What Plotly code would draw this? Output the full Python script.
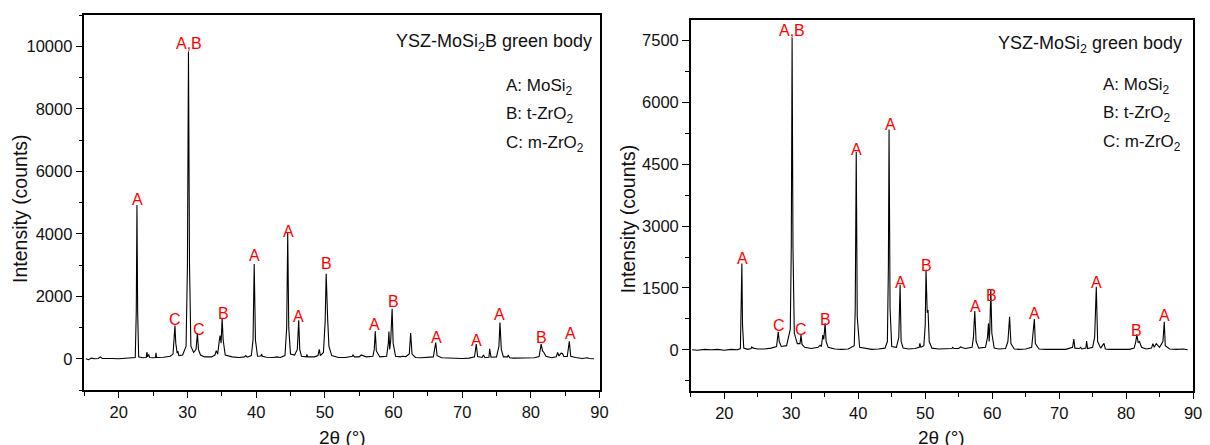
import plotly.graph_objects as go

# ---------------- data: left panel (YSZ-MoSi2B green body) ----------------
left_theta = [
    15.2, 15.6, 16.0, 16.5, 17.0, 17.3, 17.6, 18.2, 19.0, 20.0, 21.0, 22.0,
    22.4, 22.55, 22.65, 22.75, 22.9, 23.5, 24.0, 24.1, 24.2, 24.35, 24.5, 25.0,
    25.35, 25.42, 25.5, 26.5, 27.5, 27.9, 28.1, 28.18, 28.3, 28.5, 28.6, 28.75,
    29.3, 29.8, 30.0, 30.15, 30.3, 30.5, 30.9, 31.25, 31.45, 31.6, 31.9, 32.5,
    33.5, 34.0, 34.2, 34.4, 34.65, 34.75, 34.9, 35.05, 35.2, 35.5, 36.5, 37.5,
    38.3, 38.5, 38.7, 39.3, 39.55, 39.72, 39.9, 40.2, 40.7, 40.8, 40.9, 41.5,
    42.5, 43.0, 43.5, 44.2, 44.45, 44.6, 44.75, 45.0, 45.6, 46.0, 46.2, 46.35,
    46.6, 47.3, 47.4, 47.5, 48.5, 49.0, 49.2, 49.35, 49.8, 50.05, 50.2, 50.3,
    50.42, 50.6, 51.0, 52.0, 53.0, 54.0, 54.1, 54.3, 55.0, 55.3, 55.6, 56.0,
    57.0, 57.2, 57.35, 57.5, 58.0, 59.0, 59.25, 59.33, 59.45, 59.6, 59.8, 59.95,
    60.3, 61.0, 61.3, 61.8, 62.3, 62.5, 62.7, 63.2, 64.0, 65.0, 65.8, 66.15,
    66.35, 67.0, 68.0, 69.0, 70.0, 71.0, 71.8, 72.05, 72.25, 72.9, 73.1, 73.3,
    73.9, 74.0, 74.2, 75.0, 75.35, 75.5, 75.7, 76.0, 76.6, 76.7, 76.9, 77.5,
    78.5, 79.5, 80.5, 81.2, 81.5, 81.7, 81.9, 82.2, 83.0, 83.7, 83.9, 84.1,
    84.4, 84.6, 84.8, 85.3, 85.6, 85.8, 86.5, 87.5, 88.2, 88.5, 89.2,
]
left_counts = [
    0, -30, 20, 0, 10, 60, 10, 0, 10, 0, 10, 20,
    40, 1500, 4920, 1500, 60, 30, 40, 210, 60, 140, 40, 30,
    40, 190, 40, 50, 80, 150, 700, 1060, 500, 180, 240, 100,
    120, 400, 3000, 9830, 3000, 400, 200, 300, 820, 300, 120, 60,
    60, 120, 260, 150, 600, 740, 500, 1290, 600, 120, 60, 40,
    60, 100, 50, 100, 600, 3030, 600, 80, 90, 150, 80, 50,
    40, 60, 40, 100, 1000, 4020, 1000, 150, 120, 300, 1230, 300,
    80, 60, 140, 60, 60, 100, 300, 100, 200, 1200, 2720, 1600,
    1250, 400, 100, 40, 40, 80, 120, 60, 60, 120, 90, 60,
    80, 300, 880, 250, 60, 80, 500, 870, 300, 600, 1600, 500,
    80, 60, 80, 70, 150, 820, 150, 40, 30, 40, 60, 520,
    100, 30, 20, 20, 10, 20, 60, 470, 70, 40, 120, 40,
    50, 320, 50, 60, 400, 1160, 300, 60, 60, 120, 30, 20,
    20, 10, 30, 70, 470, 250, 200, 80, 30, 60, 200, 90,
    180, 170, 70, 70, 555, 80, 40, 10, 30, 10, 0,
]
left_label_x = [22.7, 28.2, 30.2, 31.7, 35.3, 39.8, 44.7, 46.2, 50.2, 57.3,
                60.0, 66.2, 72.05, 75.5, 81.6, 85.7]
left_label_y = [5107, 1247, 10096, 927, 1461, 3303, 4071, 1353, 3038, 1087,
                1839, 694, 585, 1429, 681, 800]
left_label_text = ["A", "C", "A,B", "C", "B", "A", "A", "A", "B", "A",
                   "B", "A", "A", "A", "B", "A"]

# ---------------- data: right panel (YSZ-MoSi2 green body) ----------------
right_theta = [
    15.2, 16.0, 17.0, 18.0, 19.0, 20.0, 21.0, 22.0, 22.4, 22.52, 22.62, 22.72,
    22.9, 23.5, 24.0, 24.1, 24.3, 25.0, 26.0, 27.0, 27.8, 28.05, 28.2, 28.5,
    29.3, 29.85, 30.0, 30.12, 30.25, 30.45, 30.9, 31.3, 31.45, 31.6, 32.0, 33.0,
    34.0, 34.3, 34.5, 34.7, 34.85, 35.05, 35.2, 35.5, 36.5, 37.5, 38.5, 39.4,
    39.55, 39.7, 39.85, 40.2, 41.0, 42.0, 43.0, 44.0, 44.35, 44.5, 44.6, 44.75,
    45.0, 45.7, 46.05, 46.25, 46.4, 46.7, 47.5, 48.5, 49.1, 49.2, 49.35, 49.8,
    50.0, 50.12, 50.3, 50.42, 50.6, 51.0, 52.0, 53.0, 54.0, 54.1, 54.3, 55.0,
    55.3, 55.6, 56.0, 57.0, 57.2, 57.4, 57.6, 58.0, 59.0, 59.3, 59.45, 59.55,
    59.65, 59.8, 59.95, 60.3, 61.0, 62.0, 62.35, 62.6, 62.8, 63.3, 64.0, 65.0,
    65.9, 66.1, 66.3, 66.45, 67.0, 68.0, 69.0, 70.0, 71.0, 72.0, 72.2, 72.35,
    73.0, 73.2, 73.4, 74.0, 74.1, 74.25, 75.0, 75.3, 75.55, 75.75, 76.2, 76.7,
    76.9, 77.5, 78.5, 79.5, 80.5, 81.2, 81.45, 81.6, 81.8, 82.0, 82.3, 83.0,
    83.8, 84.0, 84.2, 84.5, 84.7, 85.0, 85.5, 85.7, 85.85, 86.5, 87.5, 88.5,
    89.2,
]
right_counts = [
    0, -10, 10, 0, 10, -10, 10, 0, 30, 800, 2095, 600,
    40, 10, 30, 70, 40, 20, 20, 40, 80, 436, 200, 80,
    100, 500, 2500, 7566, 2500, 400, 150, 150, 356, 130, 60, 30,
    60, 110, 80, 356, 250, 640, 200, 60, 20, 10, 20, 100,
    1000, 4800, 800, 60, 30, 10, 20, 40, 200, 2000, 5344, 1000,
    80, 60, 300, 1570, 200, 40, 20, 30, 60, 155, 60, 100,
    600, 1933, 900, 963, 200, 40, 20, 20, 30, 60, 30, 30,
    70, 50, 30, 60, 300, 938, 200, 40, 60, 300, 640, 200,
    500, 1448, 400, 40, 20, 30, 200, 800, 150, 20, 10, 20,
    60, 400, 744, 150, 20, 10, 10, 0, 10, 60, 259, 40,
    30, 60, 20, 40, 211, 30, 60, 300, 1528, 200, 40, 155,
    20, 10, 10, 0, 10, 40, 200, 373, 180, 200, 60, 20,
    40, 150, 60, 150, 120, 60, 200, 679, 100, 20, 10, 20,
    0,
]
right_label_x = [22.72, 28.14, 30.13, 31.46, 35.16, 39.75, 44.79, 46.27, 50.12,
                 57.53, 59.95, 66.37, 75.55, 81.6, 85.77]
right_label_y = [2216, 582, 7752, 502, 737, 4867, 5473, 1625, 2054,
                 1043, 1326, 882, 1625, 478, 824]
right_label_text = ["A", "C", "A,B", "C", "B", "A", "A", "A", "B",
                    "A", "B", "A", "A", "B", "A"]

left_yticks = [0, 2000, 4000, 6000, 8000, 10000]
right_yticks = [0, 1500, 3000, 4500, 6000, 7500]
x_ticks = [20, 30, 40, 50, 60, 70, 80, 90]

phase_lines = ["A: MoSi<sub>2</sub>", "B: t-ZrO<sub>2</sub>", "C: m-ZrO<sub>2</sub>"]
left_title = "YSZ-MoSi<sub>2</sub>B green body"
right_title = "YSZ-MoSi<sub>2</sub> green body"

# ---------------- figure ----------------
# The page body keeps its default 8px margin, so the figure is drawn 8px in
# from the top-left corner of the 1210x445 window.
PAGE_W, PAGE_H, OFF = 1210, 445, 8
W, H = PAGE_W - OFF, PAGE_H - OFF
FONT = "Liberation Sans, Arial, Helvetica, sans-serif"


def px_x(p):
    return (p - OFF) / W


def px_y(p):
    return (PAGE_H - p) / H


fig = go.Figure()
fig.add_trace(go.Scatter(x=left_theta, y=left_counts, mode="lines",
                         line=dict(color="black", width=1.1), xaxis="x", yaxis="y",
                         showlegend=False, hoverinfo="skip"))
fig.add_trace(go.Scatter(x=right_theta, y=right_counts, mode="lines",
                         line=dict(color="black", width=1.1), xaxis="x2", yaxis="y2",
                         showlegend=False, hoverinfo="skip"))

axis_common = dict(
    showline=True, linecolor="black", linewidth=1.5, mirror=True,
    ticks="outside", tickcolor="black", tickwidth=1.2,
    showgrid=False, zeroline=False, tickformat="d",
    tickfont=dict(family=FONT, size=16.5, color="#111"),
)
# short tick marks on the top and right frame edges
mirror_common = dict(
    showline=False, ticks="outside", ticklen=2.5, tickcolor="black", tickwidth=1,
    showticklabels=False, showgrid=False, zeroline=False,
)

fig.update_layout(
    width=W, height=H,
    margin=dict(l=0, r=0, t=0, b=0),
    paper_bgcolor="white", plot_bgcolor="white",
    xaxis=dict(domain=[px_x(85), px_x(604)], range=[15, 90], anchor="y",
               tickvals=x_ticks, ticklen=6,
               minor=dict(dtick=5, tick0=15, ticklen=4, ticks="outside", tickcolor="black"),
               **axis_common),
    yaxis=dict(domain=[px_y(390), px_y(15)], range=[-1000, 11000], anchor="x",
               tickvals=left_yticks, ticklen=7,
               minor=dict(dtick=1000, tick0=0, ticklen=4, ticks="outside", tickcolor="black"),
               **axis_common),
    xaxis2=dict(domain=[px_x(696), px_x(1202)], range=[15, 90], anchor="y2",
                tickvals=x_ticks, ticklen=6,
                minor=dict(dtick=5, tick0=15, ticklen=4, ticks="outside", tickcolor="black"),
                **axis_common),
    yaxis2=dict(domain=[px_y(391), px_y(20)], range=[-1000, 8000], anchor="x2",
                tickvals=right_yticks, ticklen=7,
                minor=dict(dtick=750, tick0=0, ticklen=4, ticks="outside", tickcolor="black"),
                **axis_common),
    xaxis3=dict(overlaying="x", side="top", anchor="y", range=[15, 90],
                tick0=15, dtick=5, **mirror_common),
    yaxis3=dict(overlaying="y", side="right", anchor="x", range=[-1000, 11000],
                tick0=0, dtick=1000, **mirror_common),
    xaxis4=dict(overlaying="x2", side="top", anchor="y2", range=[15, 90],
                tick0=15, dtick=5, **mirror_common),
    yaxis4=dict(overlaying="y2", side="right", anchor="x2", range=[-1000, 8000],
                tick0=0, dtick=750, **mirror_common),
)

ann = []
for xv, yv, t in zip(left_label_x, left_label_y, left_label_text):
    ann.append(dict(x=xv, y=yv, xref="x", yref="y", text=t, showarrow=False,
                    font=dict(family=FONT, size=16, color="#ff0000"),
                    xanchor="center", yanchor="middle"))
for xv, yv, t in zip(right_label_x, right_label_y, right_label_text):
    ann.append(dict(x=xv, y=yv, xref="x2", yref="y2", text=t, showarrow=False,
                    font=dict(family=FONT, size=16, color="#ff0000"),
                    xanchor="center", yanchor="middle"))

# panel titles
ann.append(dict(x=px_x(397), y=px_y(43), xref="paper", yref="paper", text=left_title,
                showarrow=False, xanchor="left", yanchor="middle",
                font=dict(family=FONT, size=18, color="#111")))
ann.append(dict(x=px_x(1003), y=px_y(45), xref="paper", yref="paper", text=right_title,
                showarrow=False, xanchor="left", yanchor="middle",
                font=dict(family=FONT, size=18, color="#111")))

# phase keys
for i, (yl, yr) in enumerate(zip([86.7, 115, 144], [85.7, 114, 142.7])):
    ann.append(dict(x=px_x(507.7), y=px_y(yl), xref="paper", yref="paper", text=phase_lines[i],
                    showarrow=False, xanchor="left", yanchor="middle",
                    font=dict(family=FONT, size=17, color="#111")))
    ann.append(dict(x=px_x(1109), y=px_y(yr), xref="paper", yref="paper", text=phase_lines[i],
                    showarrow=False, xanchor="left", yanchor="middle",
                    font=dict(family=FONT, size=17, color="#111")))

# axis titles
for xc, yc in [(20, 209), (633, 219)]:
    ann.append(dict(x=px_x(xc), y=px_y(yc), xref="paper", yref="paper",
                    text="Intensity (counts)", textangle=-90, showarrow=False,
                    xanchor="center", yanchor="middle",
                    font=dict(family=FONT, size=19.5, color="#111")))
for xc in [345, 949]:
    ann.append(dict(x=px_x(xc), y=px_y(437.5), xref="paper", yref="paper",
                    text="2θ (°)", showarrow=False, xanchor="center", yanchor="middle",
                    font=dict(family=FONT, size=19, color="#111")))

fig.update_layout(annotations=ann)
fig.write_html("out.html")
